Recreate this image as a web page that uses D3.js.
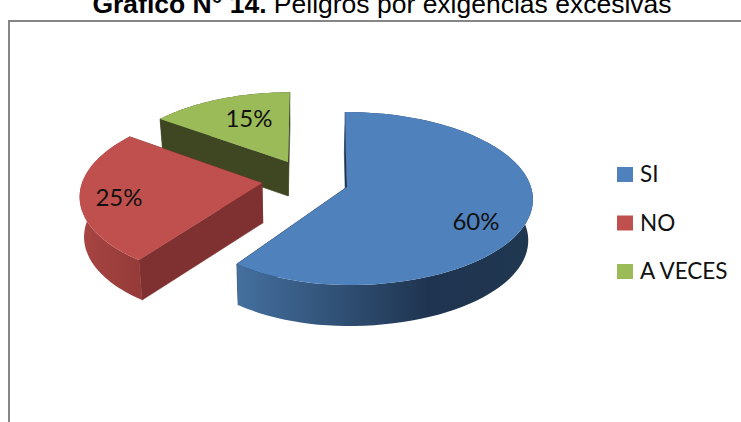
<!DOCTYPE html>
<html>
<head>
<meta charset="utf-8">
<script src="https://cdn.jsdelivr.net/npm/d3@7"></script>
<style>
  html, body { margin: 0; padding: 0; background: #fff; overflow: hidden; }
</style>
</head>
<body>
<div class="container"></div>
<script>
const categories = ['SI', 'NO', 'A VECES']
const values = [60, 25, 15]
const colors = ['#4f81bd', '#c0504d', '#9bbb59']
const wallColors = ['#1d3350', '#7e3130', '#3f4722']

const w = 741
const h = 422

// where each exploded slice sits on the page, and how the tilt squashes it
const sliceLayout = [
  { cx: 347, cy: 187, rxL: 170, rxR: 184, ry: 85, k: 0.133, lean: 2, depth: 41, label: [476, 230] },
  { cx: 262, cy: 183, rxL: 180, rxR: 180, ry: 85, k: 0.133, lean: -5, depth: 40, label: [119, 206] },
  { cx: 288, cy: 162, rxL: 172, rxR: 172, ry: 79, k: 0.133, lean: -2, depth: 34, label: [249, 127] }
]
const sideStops = [
  [['0%', '#44709f'], ['65%', '#1f3450'], ['100%', '#203750']],
  [['0%', '#a84543'], ['100%', '#953b39']],
  [['0%', '#3f4722'], ['100%', '#3f4722']]
]

const svg = d3.select('.container')
  .append('svg')
  .attr('width', w)
  .attr('height', h)
  .style('display', 'block')

const title = svg.append('text')
  .attr('x', 382)
  .attr('y', 13)
  .attr('text-anchor', 'middle')
  .attr('font-family', '"Liberation Sans", Arial, sans-serif')
  .attr('font-size', 26.5)
  .attr('fill', '#000')
title.append('tspan').attr('font-weight', 'bold').text('Gráfico N° 14.')
title.append('tspan').text(' Peligros por exigencias excesivas')

// chart frame, cut by the page on the right and at the bottom
svg.append('path')
  .attr('d', `M9,${h + 2}V21H${w + 2}`)
  .attr('fill', 'none')
  .attr('stroke', '#868686')
  .attr('stroke-width', 2)

const pie = d3.pie().sort(null).startAngle(0).endAngle(2 * Math.PI)
const arcs = pie(values)

const project = (l, a, r) => {
  const X = Math.sin(a) * r
  const Y = -Math.cos(a) * r
  const s = 1 / (1 - l.k * Y)
  return [
    l.cx + (X < 0 ? l.rxL : l.rxR) * X * s + l.lean * Y * s,
    l.cy + l.ry * Y * s
  ]
}

// bottom face: pushed down, and pulled a little toward the vanishing point
const drop = (l, p) => [p[0] + (300 - p[0]) * 0.02, p[1] + l.depth]

const line = d3.line()

const arcPoints = (l, d) => {
  const angle = d3.scaleLinear().domain([0, 80]).range([d.startAngle, d.endAngle])
  return d3.range(81).map(i => project(l, angle(i), 1))
}

const defs = svg.append('defs')

// green is furthest back, blue sits in front
d3.range(categories.length).reverse().forEach(i => {
  const l = sliceLayout[i]
  const d = arcs[i]
  const rim = arcPoints(l, d)
  const apex = [l.cx, l.cy]
  const g = svg.append('g').attr('class', 'slice')

  const grad = defs.append('linearGradient')
    .attr('id', `side${i}`)
    .attr('gradientUnits', 'userSpaceOnUse')
    .attr('x1', d3.min(rim, p => p[0]))
    .attr('x2', d3.max(rim, p => p[0]))
    .attr('y1', 0)
    .attr('y2', 0)
  // the side only shows on the lower part of the rim
  const visible = rim.filter(p => p[1] > l.cy)
  if (visible.length) {
    grad.attr('x1', d3.min(visible, p => p[0])).attr('x2', d3.max(visible, p => p[0]))
  }
  sideStops[i].forEach(s => grad.append('stop').attr('offset', s[0]).attr('stop-color', s[1]))

  // flat cut walls
  const first = rim[0]
  const last = rim[rim.length - 1]
  ;[first, last].forEach(p => {
    g.append('path')
      .attr('d', line([apex, p, drop(l, p), drop(l, apex)]) + 'Z')
      .attr('fill', wallColors[i])
      .attr('stroke', wallColors[i])
      .attr('stroke-width', 0.6)
  })

  // curved outer side
  g.append('path')
    .attr('d', line(rim.concat(rim.map(p => drop(l, p)).reverse())) + 'Z')
    .attr('fill', `url(#side${i})`)

  // top face
  g.append('path')
    .attr('d', line([apex].concat(rim)) + 'Z')
    .attr('fill', colors[i])
})

svg.selectAll('text.pct')
  .data(values)
  .enter()
  .append('text')
  .attr('class', 'pct')
  .attr('x', (d, i) => sliceLayout[i].label[0])
  .attr('y', (d, i) => sliceLayout[i].label[1])
  .attr('text-anchor', 'middle')
  .attr('font-family', 'Lato, "Open Sans", sans-serif')
  .attr('font-size', 24)
  .attr('fill', '#111')
  .text(d => d + '%')

const legendY = d3.scalePoint().domain(categories).range([182, 279])

const legend = svg.selectAll('g.legend')
  .data(categories)
  .enter()
  .append('g')
  .attr('class', 'legend')
  .attr('transform', d => `translate(0, ${legendY(d)})`)

legend.append('rect')
  .attr('x', 617)
  .attr('y', -15)
  .attr('width', 16)
  .attr('height', 15)
  .attr('fill', (d, i) => colors[i])

legend.append('text')
  .attr('x', 640)
  .attr('y', 0)
  .attr('font-family', 'Lato, "Open Sans", sans-serif')
  .attr('font-size', 22.5)
  .attr('fill', '#111')
  .text(d => d)
</script>
</body>
</html>
